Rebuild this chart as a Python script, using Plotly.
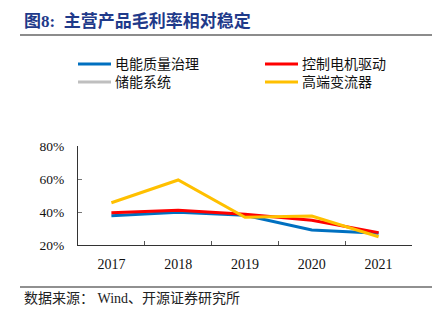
import plotly.graph_objects as go

years = ["2017", "2018", "2019", "2020", "2021"]
series_names = ["电能质量治理", "控制电机驱动", "储能系统", "高端变流器"]
power_quality = [37.8, 39.8, 38.0, 29.1, 27.1]
motor_drive = [39.6, 41.0, 38.6, 35.0, 27.5]
storage = [None, None, None, None, None]
converter = [45.6, 59.4, 36.8, 37.6, 25.0]
y_ticks = [20, 40, 60, 80]
y_tick_labels = ["20%", "40%", "60%", "80%"]
colors = ["#0070C0", "#FF0000", "#BFBFBF", "#FFC000"]

title_text = "图8:  主营产品毛利率相对稳定"
source_text = "数据来源： Wind、开源证券研究所"

W, H = 440, 326
L, R, T, B = 78, 28, 146, 81
PW, PH = W - L - R, H - T - B
serif = "Liberation Serif, Noto Sans CJK SC, serif"
cjk = "Liberation Serif, Noto Sans CJK SC, sans-serif"

fig = go.Figure()
for name, vals, c in zip(series_names, [power_quality, motor_drive, storage, converter], colors):
    fig.add_trace(go.Scatter(x=years, y=vals, name=name, mode="lines",
                             line=dict(color=c, width=3), showlegend=False,
                             connectgaps=False))

def px_x(p):
    return (p - L) / PW

def px_y(p):
    return (H - B - p) / PH

shapes = []
annotations = []
# title
annotations.append(dict(text=title_text, xref="paper", yref="paper", x=px_x(22), y=px_y(21),
                        xanchor="left", yanchor="middle", showarrow=False,
                        font=dict(family=cjk, size=17, color="#1F3A8A", weight="bold")))
shapes.append(dict(type="line", xref="paper", yref="paper", x0=px_x(20), x1=px_x(432),
                   y0=px_y(35), y1=px_y(35), line=dict(color="#8C8C8C", width=2)))
# legend (manual, two columns)
leg_pos = [(78, 64), (265, 64), (78, 82), (265, 82)]
for (lx, ly), name, c in zip(leg_pos, series_names, colors):
    shapes.append(dict(type="line", xref="paper", yref="paper", x0=px_x(lx), x1=px_x(lx + 33),
                       y0=px_y(ly), y1=px_y(ly), line=dict(color=c, width=3)))
    annotations.append(dict(text=name, xref="paper", yref="paper", x=px_x(lx + 35), y=px_y(ly),
                            xanchor="left", yanchor="middle", showarrow=False,
                            font=dict(family=cjk, size=14, color="#111111")))
# source
shapes.append(dict(type="line", xref="paper", yref="paper", x0=px_x(20), x1=px_x(432),
                   y0=px_y(287), y1=px_y(287), line=dict(color="#222222", width=1.2)))
annotations.append(dict(text=source_text, xref="paper", yref="paper", x=px_x(22), y=px_y(298),
                        xanchor="left", yanchor="middle", showarrow=False,
                        font=dict(family=cjk, size=14, color="#222222")))

fig.update_layout(
    width=W, height=H,
    margin=dict(l=L, r=R, t=T, b=B, pad=0),
    paper_bgcolor="white", plot_bgcolor="white",
    shapes=shapes, annotations=annotations,
    xaxis=dict(type="category", range=[-0.5, 4.5], tickson="boundaries", ticks="inside",
               ticklen=4, tickcolor="#555555", showline=True, linecolor="#333333", linewidth=1,
               showgrid=False, zeroline=False, fixedrange=True, ticklabelstandoff=6,
               tickfont=dict(family=serif, size=14, color="#111111")),
    yaxis=dict(range=[20, 80], tickvals=y_ticks, ticktext=y_tick_labels, ticks="inside",
               ticklen=4, tickcolor="#777777", showline=True, linecolor="#333333", linewidth=1,
               showgrid=False, zeroline=False, fixedrange=True, ticklabelstandoff=10,
               tickfont=dict(family=serif, size=13.5, color="#111111")),
    showlegend=False,
)

fig.write_html("out.html", config=dict(displayModeBar=False))
